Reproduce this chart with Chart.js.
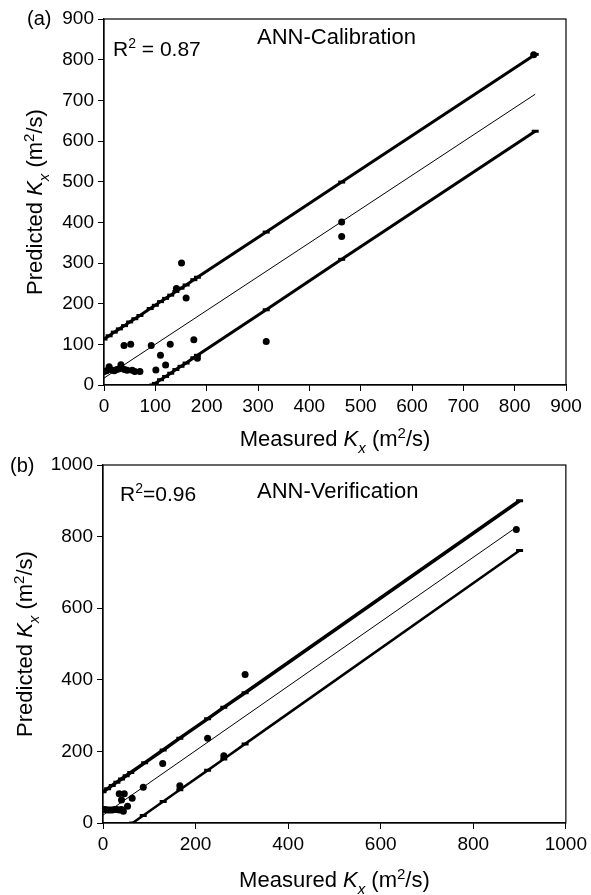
<!DOCTYPE html>
<html>
<head>
<meta charset="utf-8">
<script src="https://cdn.jsdelivr.net/npm/chart.js@4"></script>
<style>
  body { margin: 0; background: #fff; }
  #wrap { position: relative; width: 591px; height: 895px; }
  canvas { position: absolute; left: 0; }
  #chartA { top: 0; }
  #chartB { top: 440px; }
</style>
</head>
<body>
<div id="wrap">
  <canvas id="chartA" width="591" height="455"></canvas>
  <canvas id="chartB" width="591" height="455"></canvas>
</div>
<script>
// --- (a) ANN-Calibration : valores ---
const calMedido   = [0, 5, 10, 15, 20, 25, 30, 33, 40, 45, 55, 60, 70, 39, 52, 92, 101, 110, 120, 129, 141, 151, 160, 175, 182, 316, 463, 463, 837];
const calPrevisto = [33, 35, 45, 37, 35, 38, 40, 50, 38, 36, 36, 33, 33, 97, 100, 97, 37, 73, 49, 100, 237, 300, 214, 111, 66, 107, 401, 365, 812];
const calSupX = [0, 10, 20, 30, 40, 50, 60, 70, 90, 100, 110, 120, 130, 140, 150, 160, 175, 182, 316, 463, 840];
const calSupY = [113, 121, 130, 138, 146, 155, 163, 171, 188, 196, 205, 213, 221, 230, 238, 246, 259, 265, 376, 499, 813];
const calInfX = [95, 100, 110, 120, 130, 140, 150, 160, 175, 182, 316, 463, 840];
const calInfY = [0, 4, 13, 21, 29, 38, 46, 54, 67, 73, 185, 309, 624];
const calAjX = [0, 840];
const calAjY = [17, 715];
const calTicks = [0, 100, 200, 300, 400, 500, 600, 700, 800, 900];

// --- (b) ANN-Verification ---
const verMedido   = [0, 5, 10, 15, 20, 25, 30, 35, 40, 35, 46, 40, 44, 53, 63, 87, 129, 166, 226, 261, 307, 893];
const verPrevisto = [38, 38, 36, 36, 36, 38, 38, 36, 38, 82, 82, 64, 33, 47, 69, 100, 166, 104, 237, 188, 415, 820];
const verSupX = [0, 10, 20, 30, 40, 50, 60, 90, 130, 166, 226, 261, 307, 900];
const verSupY = [87, 96, 105, 114, 123, 132, 141, 168, 204, 237, 291, 323, 364, 900];
const verInfX = [64, 87, 130, 166, 226, 261, 307, 900];
const verInfY = [0, 21, 60, 93, 147, 179, 221, 761];
const verAjX = [0, 893];
const verAjY = [22, 826];
const verTicks = [0, 200, 400, 600, 800, 1000];

const FONTE = '"Liberation Sans", Arial, sans-serif';

function pontos(xs, ys) {
  return xs.map((x, i) => ({ x: x, y: ys[i] }));
}

// Texto com itálico, índice e expoente
function textoRico(ctx, partes, x, y, tam, centro) {
  const fonteDe = p => (p.it ? 'italic ' : '') + ((p.sub || p.sup) ? Math.round(tam * 0.68) : tam) + 'px ' + FONTE;
  let largura = 0;
  partes.forEach(p => { ctx.font = fonteDe(p); largura += ctx.measureText(p.t).width; });
  let cx = centro ? x - largura / 2 : x;
  ctx.textAlign = 'left';
  ctx.textBaseline = 'alphabetic';
  partes.forEach(p => {
    ctx.font = fonteDe(p);
    const dy = p.sub ? tam * 0.3 : (p.sup ? -tam * 0.38 : 0);
    ctx.fillText(p.t, cx, y + dy);
    cx += ctx.measureText(p.t).width;
  });
}

const tituloX = [{ t: 'Measured ' }, { t: 'K', it: true }, { t: 'x', it: true, sub: true }, { t: ' (m' }, { t: '2', sup: true }, { t: '/s)' }];
const tituloY = [{ t: 'Predicted ' }, { t: 'K', it: true }, { t: 'x', it: true, sub: true }, { t: ' (m' }, { t: '2', sup: true }, { t: '/s)' }];

const pluginTextos = {
  id: 'textos',
  afterDraw(chart, args, opts) {
    const ctx = chart.ctx;
    const a = chart.chartArea;
    ctx.save();
    // moldura
    ctx.strokeStyle = '#000';
    ctx.lineWidth = 1.2;
    ctx.strokeRect(a.left, a.top, a.right - a.left, a.bottom - a.top);
    ctx.fillStyle = '#000';
    textoRico(ctx, tituloX, (a.left + a.right) / 2, opts.tituloXY, 22, true);
    ctx.save();
    ctx.translate(opts.tituloYX, (a.top + a.bottom) / 2);
    ctx.rotate(-Math.PI / 2);
    textoRico(ctx, tituloY, 0, 0, 22, true);
    ctx.restore();
    opts.notas.forEach(n => textoRico(ctx, n.partes, n.x, n.y, n.tam, false));
    ctx.restore();
  }
};

function eixo(min, max, passo, largura, altura) {
  const base = {
    type: 'linear',
    min: min,
    max: max,
    grid: { drawOnChartArea: false, drawTicks: true, tickLength: 6, color: '#000', lineWidth: 1 },
    border: { display: true, color: '#000', width: 1.2 },
    ticks: {
      stepSize: passo, color: '#000', font: { family: FONTE, size: 19 }, padding: 4,
      callback: v => String(v)
    }
  };
  if (largura) base.afterFit = s => { s.width = largura; };
  if (altura) base.afterFit = s => { s.height = altura; };
  return base;
}

function criarGrafico(id, dados, cfg) {
  return new Chart(document.getElementById(id), {
    type: 'scatter',
    data: {
      datasets: [
        { data: dados.pontos, backgroundColor: '#000', borderColor: '#000', pointRadius: 3.5, pointBorderWidth: 0, showLine: false, order: 0 },
        { data: dados.sup, showLine: true, borderColor: '#000', borderWidth: cfg.espSup, pointStyle: 'line', pointRadius: 3.5, pointBorderWidth: 3, pointBorderColor: '#000', order: 1 },
        { data: dados.inf, showLine: true, borderColor: '#000', borderWidth: cfg.espInf, pointStyle: 'line', pointRadius: 3.5, pointBorderWidth: 3, pointBorderColor: '#000', order: 1 },
        { data: dados.ajuste, showLine: true, borderColor: '#000', borderWidth: 1, pointRadius: 0, order: 2 }
      ]
    },
    options: {
      responsive: false,
      animation: false,
      layout: { padding: { top: cfg.topo, right: cfg.direita, left: 0, bottom: 0 } },
      plugins: {
        legend: { display: false },
        tooltip: { enabled: false },
        textos: cfg.textos
      },
      scales: {
        x: eixo(cfg.min, cfg.max, cfg.passo, null, cfg.alturaX),
        y: eixo(cfg.min, cfg.max, cfg.passo, cfg.larguraY, null)
      }
    },
    plugins: [pluginTextos]
  });
}

criarGrafico('chartA', {
  pontos: pontos(calMedido, calPrevisto),
  sup: pontos(calSupX, calSupY),
  inf: pontos(calInfX, calInfY),
  ajuste: pontos(calAjX, calAjY)
}, {
  min: calTicks[0], max: calTicks[calTicks.length - 1], passo: calTicks[1] - calTicks[0],
  topo: 19, direita: 25, larguraY: 104, alturaX: 70,
  espSup: 3, espInf: 3,
  textos: {
    tituloXY: 446, tituloYX: 42,
    notas: [
      { partes: [{ t: '(a)' }], x: 27, y: 25, tam: 20 },
      { partes: [{ t: 'R' }, { t: '2', sup: true }, { t: ' = 0.87' }], x: 113, y: 56, tam: 21 },
      { partes: [{ t: 'ANN-Calibration' }], x: 257, y: 44, tam: 22 }
    ]
  }
});

criarGrafico('chartB', {
  pontos: pontos(verMedido, verPrevisto),
  sup: pontos(verSupX, verSupY),
  inf: pontos(verInfX, verInfY),
  ajuste: pontos(verAjX, verAjY)
}, {
  min: verTicks[0], max: verTicks[verTicks.length - 1], passo: verTicks[1] - verTicks[0],
  topo: 25, direita: 25, larguraY: 103, alturaX: 72,
  espSup: 3.5, espInf: 2.5,
  textos: {
    tituloXY: 447, tituloYX: 32,
    notas: [
      { partes: [{ t: '(b)' }], x: 10, y: 32, tam: 20 },
      { partes: [{ t: 'R' }, { t: '2', sup: true }, { t: '=0.96' }], x: 120, y: 61, tam: 21 },
      { partes: [{ t: 'ANN-Verification' }], x: 257, y: 58, tam: 22 }
    ]
  }
});
</script>
</body>
</html>
